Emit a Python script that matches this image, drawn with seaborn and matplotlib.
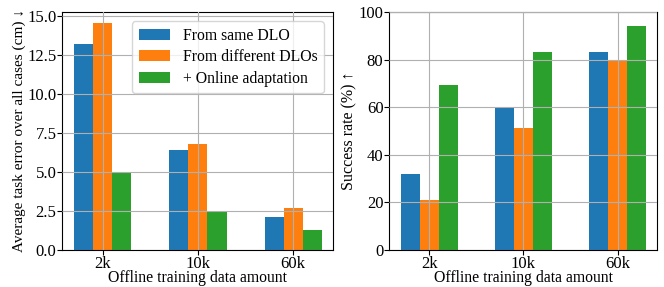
import pandas as pd
import seaborn as sns
import matplotlib.pyplot as plt

plt.rcParams['font.family'] = ['Liberation Serif', 'DejaVu Serif']
plt.rcParams['font.size'] = 12

# data
amounts = ["2k", "10k", "60k"]
methods = ["From same DLO", "From different DLOs", "+ Online adaptation"]
task_error = {
    "From same DLO": [13.15, 6.4, 2.1],
    "From different DLOs": [14.5, 6.8, 2.7],
    "+ Online adaptation": [4.95, 2.4, 1.25],
}
success_rate = {
    "From same DLO": [32.0, 59.8, 83.0],
    "From different DLOs": [21.2, 51.3, 80.0],
    "+ Online adaptation": [69.3, 83.0, 94.3],
}

def to_long(d, name):
    rows = []
    for m in methods:
        for a, v in zip(amounts, d[m]):
            rows.append({"amount": a, "method": m, name: v})
    return pd.DataFrame(rows)

err = to_long(task_error, "error")
succ = to_long(success_rate, "success")
colors = ["#1f77b4", "#ff7f0e", "#2ca02c"]

fig = plt.figure(figsize=(6.64, 2.87), dpi=100)
ax1 = fig.add_axes([62/664, 1-250/287, 271/664, 238/287])
ax2 = fig.add_axes([389/664, 1-250/287, 268/664, 238/287])

sns.barplot(data=err, x="amount", y="error", hue="method", order=amounts,
            hue_order=methods, palette=colors, width=0.6, gap=0, saturation=1,
            ax=ax1)
sns.barplot(data=succ, x="amount", y="success", hue="method", order=amounts,
            hue_order=methods, palette=colors, width=0.6, gap=0, saturation=1,
            ax=ax2, legend=False)

for ax in (ax1, ax2):
    ax.set_xlim(-0.43, 2.42)
    ax.grid(True, color="#b0b0b0", lw=0.8)
    ax.set_axisbelow(False)
    ax.set_xlabel("Offline training data amount", fontsize=11.3, labelpad=-1)
    ax.tick_params(labelsize=12, length=3.5, pad=0.5)
    for s in ax.spines.values():
        s.set_color("black")

ax1.set_ylim(0, 15.225)
ax1.set_yticks([0, 2.5, 5, 7.5, 10, 12.5, 15])
ax1.set_ylabel("Average task error over all cases (cm) \u2193", fontsize=11, labelpad=1)
ax2.set_ylim(0, 100)
ax2.set_ylabel("Success rate (%) \u2191", fontsize=11.5, labelpad=1)

ax1.legend(loc="upper right", title=None, framealpha=0.8, fontsize=11.3,
           labelspacing=0.35, borderaxespad=0.6)

fig.savefig("out.png", dpi=100)
